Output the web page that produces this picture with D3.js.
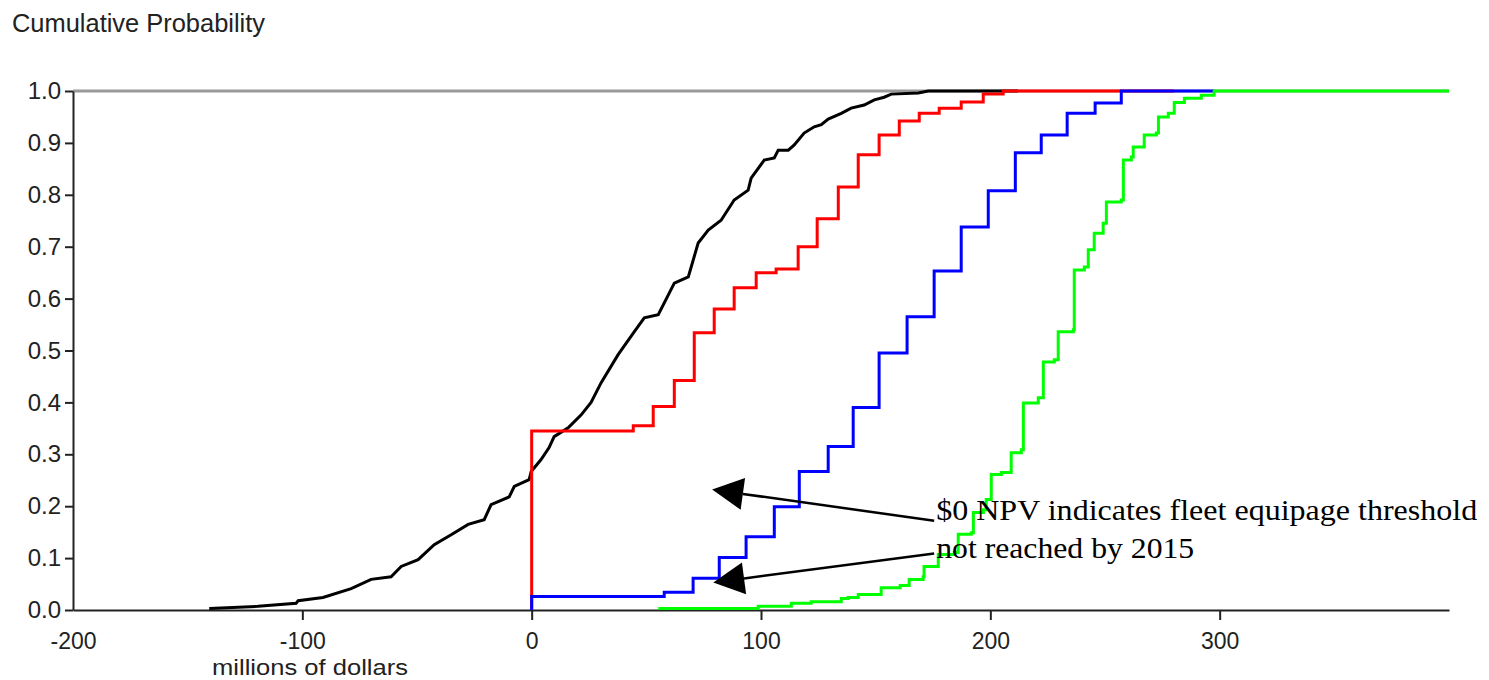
<!DOCTYPE html>
<html>
<head>
<meta charset="utf-8">
<script src="https://cdn.jsdelivr.net/npm/d3@7"></script>
<style>
  html, body { margin: 0; padding: 0; background: #fff; }
  svg { display: block; }
</style>
</head>
<body>
<div id="chart"></div>
<script>
// cumulative probability of NPV (millions of dollars)
const blackX = [-140.6, -119.3, -102.7, -101.8, -91, -78.7, -70, -61.3, -56.9, -49.5, -42.5, -35.1, -27.7, -20.7, -17.7, -9.8, -7.6, -1.1, -0.2, 4.1, 7.6, 9.8, 15.9, 21.6, 25.9, 30.3, 37.7, 44.7, 49.1, 55.2, 62.2, 68.3, 72.6, 77, 82.6, 88.3, 94.4, 95.7, 101.4, 105.8, 107.5, 111.9, 114.5, 118.8, 123.2, 126.3, 129.3, 135, 139.3, 145, 149.4, 153.7, 156.8, 168.6, 172.9, 212];
const blackP = [0.003, 0.007, 0.013, 0.018, 0.024, 0.041, 0.059, 0.064, 0.084, 0.097, 0.126, 0.145, 0.165, 0.174, 0.203, 0.218, 0.238, 0.251, 0.267, 0.29, 0.313, 0.334, 0.351, 0.376, 0.4, 0.438, 0.492, 0.536, 0.563, 0.569, 0.63, 0.642, 0.707, 0.732, 0.751, 0.79, 0.809, 0.832, 0.867, 0.871, 0.886, 0.886, 0.896, 0.919, 0.931, 0.935, 0.946, 0.957, 0.967, 0.973, 0.983, 0.988, 0.994, 0.996, 1.0, 1.0];

const redX = [0, 0, 44.3, 53.0, 62.2, 70.9, 79.6, 88.3, 97.9, 106.6, 116.2, 124.5, 133.7, 142.4, 151.5, 160.3, 169.0, 177.7, 187.3, 196.9, 205.6, 280.2];
const redP = [0, 0.345, 0.355, 0.392, 0.442, 0.534, 0.58, 0.621, 0.65, 0.657, 0.7, 0.754, 0.815, 0.877, 0.915, 0.942, 0.957, 0.967, 0.979, 0.994, 1.0, 1.0];

const blueX = [0, 0, 57.8, 70.4, 81.8, 93.5, 105.8, 116.7, 129.3, 140.2, 151.5, 163.7, 175.5, 187.3, 199.1, 210.9, 222.2, 233.5, 245.7, 257.1, 297.6];
const blueP = [0, 0.026, 0.034, 0.061, 0.101, 0.141, 0.199, 0.267, 0.315, 0.39, 0.495, 0.565, 0.653, 0.738, 0.808, 0.881, 0.915, 0.957, 0.977, 1.0, 1.0];

const greenX = [55.2, 98.8, 113.2, 121.9, 135, 138, 142.4, 152.4, 160.7, 164.6, 170.7, 171.1, 177.3, 184.3, 186, 191.7, 192.6, 197, 198.2, 200.4, 204.8, 209.1, 213.5, 214.4, 220.9, 223.1, 227.9, 229.6, 236.2, 236.6, 241, 242.7, 245.3, 249.2, 250.6, 257.1, 258, 261.5, 262.3, 267.1, 272.4, 273.3, 277.6, 280.2, 284.6, 292, 297.6, 400];
const greenP = [0.003, 0.007, 0.013, 0.016, 0.022, 0.024, 0.03, 0.043, 0.047, 0.059, 0.064, 0.084, 0.107, 0.111, 0.146, 0.149, 0.188, 0.193, 0.213, 0.261, 0.265, 0.303, 0.309, 0.399, 0.409, 0.478, 0.482, 0.536, 0.54, 0.655, 0.661, 0.694, 0.726, 0.745, 0.786, 0.79, 0.867, 0.873, 0.892, 0.915, 0.919, 0.95, 0.957, 0.978, 0.986, 0.992, 1.0, 1.0];

const xTicks = [-200, -100, 0, 100, 200, 300];
const yTicks = [0, 0.1, 0.2, 0.3, 0.4, 0.5, 0.6, 0.7, 0.8, 0.9, 1.0];

const annotationLines = ["$0 NPV indicates fleet equipage threshold", "not reached by 2015"];

// layout
const width = 1489, height = 680;
const marginLeft = 73, marginRight = 40, marginTop = 91, marginBottom = 70;
const sansFont = "Arial, 'Liberation Sans', sans-serif";

const svg = d3.select("#chart").append("svg")
  .attr("width", width)
  .attr("height", height)
  .style("background", "#fff");

const x = d3.scaleLinear().domain([-200, 400]).range([marginLeft, width - marginRight]);
const y = d3.scaleLinear().domain([0, 1]).range([height - marginBottom, marginTop]);

// y axis title
svg.append("text")
  .attr("x", 12)
  .attr("y", 32)
  .attr("font-family", sansFont)
  .attr("font-size", 25)
  .attr("fill", "#222")
  .attr("textLength", 253)
  .attr("lengthAdjust", "spacingAndGlyphs")
  .text("Cumulative Probability");

// gray line at probability 1.0
svg.append("line")
  .attr("x1", x(-200)).attr("x2", x(400))
  .attr("y1", y(1)).attr("y2", y(1))
  .attr("stroke", "#9a9a9a")
  .attr("stroke-width", 3);

// y axis
const yAxis = svg.append("g")
  .attr("transform", `translate(${marginLeft},0)`)
  .call(d3.axisLeft(y).tickValues(yTicks).tickFormat(d3.format(".1f")).tickSizeInner(8).tickSizeOuter(0).tickPadding(4));
yAxis.select(".domain").attr("stroke", "#222").attr("stroke-width", 2);
yAxis.selectAll(".tick line").attr("stroke", "#222").attr("stroke-width", 2);
yAxis.selectAll("text").attr("font-family", sansFont).attr("font-size", 24).attr("fill", "#222");

// x axis (plain hyphen for negatives, as in the original)
const xAxis = svg.append("g")
  .attr("transform", `translate(0,${y(0)})`)
  .call(d3.axisBottom(x).tickValues(xTicks).tickFormat(d => String(d)).tickSizeInner(10).tickSizeOuter(0).tickPadding(13));
xAxis.select(".domain").attr("stroke", "#222").attr("stroke-width", 2);
xAxis.selectAll(".tick line").attr("stroke", "#222").attr("stroke-width", 2)
  .filter(d => d === -200).remove();
xAxis.selectAll("text").attr("font-family", sansFont).attr("font-size", 23).attr("fill", "#222");

// x axis title
svg.append("text")
  .attr("x", 212)
  .attr("y", 675)
  .attr("font-family", sansFont)
  .attr("font-size", 22)
  .attr("fill", "#222")
  .attr("textLength", 196)
  .attr("lengthAdjust", "spacingAndGlyphs")
  .text("millions of dollars");

// curves
const series = [
  { xs: blackX, ps: blackP, color: "#000000", curve: d3.curveLinear },
  { xs: redX, ps: redP, color: "#ff0000", curve: d3.curveStepAfter },
  { xs: blueX, ps: blueP, color: "#0000ff", curve: d3.curveStepAfter },
  { xs: greenX, ps: greenP, color: "#00ff00", curve: d3.curveStepAfter },
];

series.forEach(s => {
  const pts = s.xs.map((v, i) => [v, s.ps[i]]);
  const line = d3.line().x(d => x(d[0])).y(d => y(d[1])).curve(s.curve);
  svg.append("path")
    .datum(pts)
    .attr("d", line)
    .attr("fill", "none")
    .attr("stroke", s.color)
    .attr("stroke-width", 3)
    .attr("stroke-linejoin", "miter");
});

// annotation arrows
const arrows = [
  { from: [175.5, 0.172], to: [78.7, 0.232] },
  { from: [175.5, 0.109], to: [79.2, 0.053] },
];
const headLen = 31, headHalf = 16;
arrows.forEach(a => {
  const x0 = x(a.from[0]), y0 = y(a.from[1]);
  const x1 = x(a.to[0]), y1 = y(a.to[1]);
  const ang = Math.atan2(y1 - y0, x1 - x0);
  const bx = x1 - headLen * Math.cos(ang), by = y1 - headLen * Math.sin(ang);
  svg.append("line")
    .attr("x1", x0).attr("y1", y0)
    .attr("x2", bx).attr("y2", by)
    .attr("stroke", "#000").attr("stroke-width", 2.5);
  const px = -Math.sin(ang) * headHalf, py = Math.cos(ang) * headHalf;
  svg.append("path")
    .attr("d", `M${x1},${y1}L${bx + px},${by + py}L${bx - px},${by - py}Z`)
    .attr("fill", "#000");
});

// annotation text
const textWidths = [541, 258];
svg.append("g")
  .selectAll("text")
  .data(annotationLines)
  .join("text")
  .attr("x", x(176.4))
  .attr("y", (d, i) => 520 + i * 38)
  .attr("font-family", "'Liberation Serif', 'Times New Roman', serif")
  .attr("font-size", 30)
  .attr("fill", "#000")
  .attr("textLength", (d, i) => textWidths[i])
  .attr("lengthAdjust", "spacingAndGlyphs")
  .text(d => d);
</script>
</body>
</html>
